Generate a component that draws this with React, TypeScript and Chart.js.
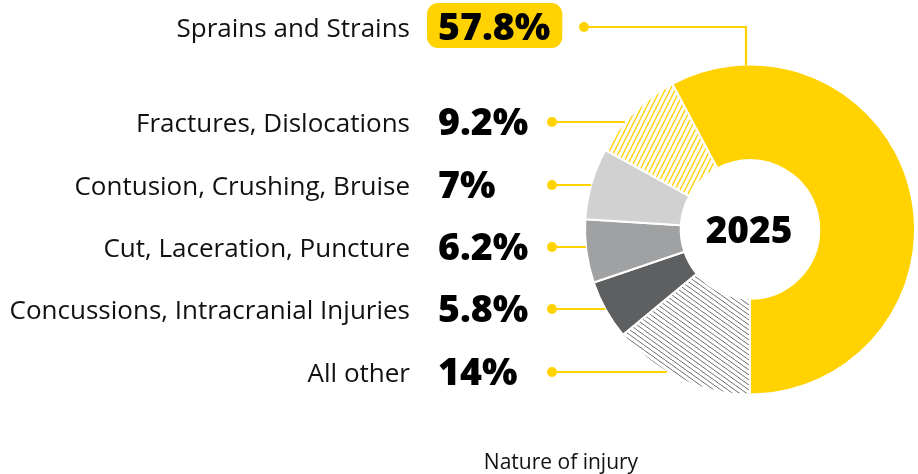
import React, { useEffect, useRef } from "react";
import { Chart, registerables } from "chart.js";

Chart.register(...registerables);

// ---- data ----
const categories = [
  "Sprains and Strains",
  "All other",
  "Concussions, Intracranial Injuries",
  "Cut, Laceration, Puncture",
  "Contusion, Crushing, Bruise",
  "Fractures, Dislocations",
];
const values = [57.8, 14, 5.8, 6.2, 7, 9.2];
const valueLabels = ["57.8%", "14%", "5.8%", "6.2%", "7%", "9.2%"];
const centerLabel = "2025";
const caption = "Nature of injury";

// ---- layout / style (not data) ----
const W = 918;
const H = 474;
const rowY = [27, 372, 309, 247, 185, 122];
const labelRight = 410;
const pctLeft = 438;
const dotX = 552;
const sprainDotX = 584;
const sprainDropX = 746;
const YELLOW = "#FFD200";
const FONT = "'Open Sans', 'Noto Sans', sans-serif";

function makeHatch(
  w: number,
  h: number,
  color: string,
  lw: number,
  dir: "up" | "down"
): CanvasPattern | string {
  const c = document.createElement("canvas");
  c.width = w;
  c.height = h;
  const g = c.getContext("2d");
  if (!g) return color;
  g.fillStyle = "#ffffff";
  g.fillRect(0, 0, w, h);
  g.strokeStyle = color;
  g.lineWidth = lw;
  for (let k = -1; k <= 1; k++) {
    g.beginPath();
    if (dir === "up") {
      g.moveTo(k * w, h);
      g.lineTo(k * w + w, 0);
    } else {
      g.moveTo(k * w, 0);
      g.lineTo(k * w + w, h);
    }
    g.stroke();
  }
  const p = g.createPattern(c, "repeat");
  return p || color;
}

const labelsPlugin = {
  id: "injuryLabels",
  afterDraw(chart: any) {
    const ctx = chart.ctx as CanvasRenderingContext2D;
    const meta = chart.getDatasetMeta(0);
    const arc0 = meta.data[0] as any;
    const cx = arc0.x;
    const cy = arc0.y;
    const R = arc0.outerRadius;
    ctx.save();

    // leader lines
    ctx.strokeStyle = YELLOW;
    ctx.fillStyle = YELLOW;
    ctx.lineWidth = 2.2;
    categories.forEach((_, i) => {
      const y = rowY[i];
      if (i === 0) {
        const yEnd = cy - Math.sqrt(Math.max(R * R - (sprainDropX - cx) ** 2, 0));
        ctx.beginPath();
        ctx.moveTo(sprainDotX, y);
        ctx.lineTo(sprainDropX, y);
        ctx.lineTo(sprainDropX, yEnd + 1);
        ctx.stroke();
        ctx.beginPath();
        ctx.arc(sprainDotX, y, 5, 0, Math.PI * 2);
        ctx.fill();
      } else {
        const xEnd = cx - Math.sqrt(Math.max(R * R - (y - cy) ** 2, 0));
        ctx.beginPath();
        ctx.moveTo(dotX, y);
        ctx.lineTo(xEnd, y);
        ctx.stroke();
        ctx.beginPath();
        ctx.arc(dotX, y, 5, 0, Math.PI * 2);
        ctx.fill();
      }
    });

    // category labels
    ctx.textBaseline = "middle";
    categories.forEach((name, i) => {
      ctx.font = `400 26px ${FONT}`;
      ctx.fillStyle = "#111111";
      ctx.textAlign = "right";
      ctx.fillText(name, labelRight, rowY[i] + 3);

      ctx.font = `800 37.5px ${FONT}`;
      ctx.textAlign = "left";
      if (i === 0) {
        const tw = ctx.measureText(valueLabels[i]).width;
        const bx = pctLeft - 11;
        const bw = tw + 23;
        ctx.fillStyle = YELLOW;
        ctx.beginPath();
        (ctx as any).roundRect(bx, 3, bw, 45, 11);
        ctx.fill();
      }
      ctx.fillStyle = "#000000";
      ctx.fillText(valueLabels[i], pctLeft, rowY[i] + 2);
    });

    // center label
    ctx.font = `800 37px ${FONT}`;
    ctx.textAlign = "center";
    ctx.fillStyle = "#000000";
    ctx.fillText(centerLabel, cx - 1, cy + 3);

    // caption
    ctx.font = `400 21px ${FONT}`;
    ctx.fillStyle = "#111111";
    ctx.fillText(caption, 561, 463);

    ctx.restore();
  },
};

export default function App() {
  const ref = useRef<HTMLCanvasElement | null>(null);

  useEffect(() => {
    if (!ref.current) return;
    const yellowHatch = makeHatch(5, 10, YELLOW, 1.4, "up");
    const greyHatch = makeHatch(7, 5, "#6e6e6e", 1, "down");
    const colors = [YELLOW, greyHatch, "#5E5F61", "#A0A1A3", "#D1D1D1", yellowHatch];

    const chart = new Chart(ref.current, {
      type: "doughnut",
      data: {
        labels: categories,
        datasets: [
          {
            data: values,
            backgroundColor: colors as any,
            borderColor: "#ffffff",
            borderWidth: 2,
            hoverOffset: 0,
          },
        ],
      },
      options: {
        animation: false,
        responsive: false,
        maintainAspectRatio: false,
        rotation: -(values[0] / 100) * 360 + 180,
        cutout: "42%",
        layout: { padding: { left: 584, right: 2, top: 63, bottom: 78 } },
        plugins: {
          legend: { display: false },
          tooltip: { enabled: false },
        },
        events: [],
      },
      plugins: [labelsPlugin],
    });
    return () => chart.destroy();
  }, []);

  return (
    <div
      style={{
        position: "fixed",
        left: 0,
        top: 0,
        width: W,
        height: H,
        background: "#ffffff",
      }}
    >
      <canvas ref={ref} width={W} height={H} style={{ width: W, height: H, display: "block" }} />
    </div>
  );
}
